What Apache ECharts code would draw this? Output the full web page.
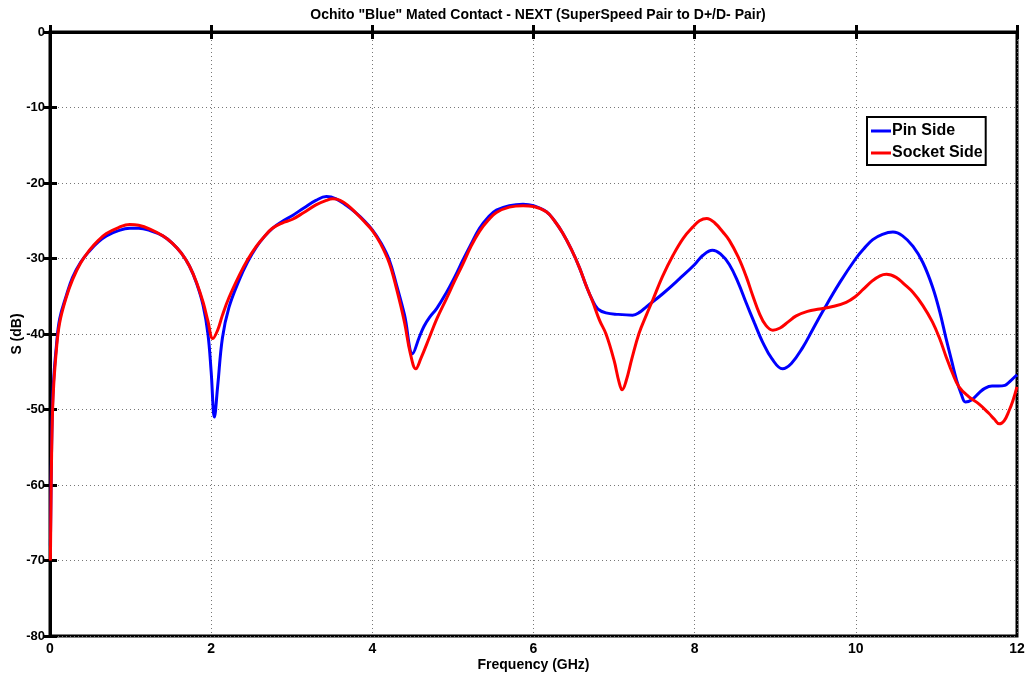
<!DOCTYPE html>
<html>
<head>
<meta charset="utf-8">
<script src="https://cdn.jsdelivr.net/npm/echarts@6/dist/echarts.min.js"></script>
<style>html,body{margin:0;padding:0;background:#fff}#c{width:1029px;height:681px}</style>
</head>
<body>
<div id="c"></div>
<script>
var titleText = 'Ochito "Blue" Mated Contact - NEXT (SuperSpeed Pair to D+/D- Pair)';
var seriesNames = ['Pin Side', 'Socket Side'];
var xTicks = [0, 2, 4, 6, 8, 10, 12];
var yTicks = [-80, -70, -60, -50, -40, -30, -20, -10, 0];

var pinFreq = [0.005,0.02,0.04,0.08,0.12,0.2,0.28,0.38,0.49,0.6,0.7,0.85,0.99,1.1,1.24,1.4,1.52,1.63,1.73,1.82,1.90,1.96,2.0,2.04,2.08,2.14,2.22,2.35,2.45,2.56,2.66,2.76,2.88,3.01,3.15,3.3,3.43,3.55,3.68,3.8,3.9,4.0,4.1,4.21,4.3,4.4,4.5,4.58,4.64,4.71,4.8,4.92,5.02,5.12,5.22,5.33,5.44,5.54,5.7,5.87,6.0,6.16,6.26,6.36,6.47,6.57,6.65,6.73,6.8,6.9,7.05,7.23,7.32,7.40,7.6,7.81,8.0,8.1,8.22,8.32,8.43,8.54,8.64,8.74,8.84,8.96,9.09,9.2,9.34,9.46,9.59,9.8,10.0,10.1,10.21,10.33,10.46,10.58,10.71,10.83,10.95,11.04,11.12,11.19,11.25,11.31,11.36,11.44,11.53,11.6,11.69,11.77,11.85,11.92,12.0];
var pinDb = [-68,-55,-47,-41.5,-38,-35,-32.5,-30.5,-29,-27.8,-27,-26.3,-26,-26,-26.3,-27,-28,-29.3,-31,-33.3,-36.2,-40,-45,-51,-47,-40.5,-36.5,-32.8,-30.5,-28.5,-27.1,-26.0,-25.1,-24.3,-23.3,-22.3,-21.8,-22.1,-23.0,-24.0,-25.0,-26.2,-27.8,-30.2,-33.5,-37.5,-42.6,-40.5,-39,-37.8,-36.6,-34.5,-32.5,-30.3,-28.2,-26.0,-24.5,-23.6,-23.0,-22.8,-23.0,-23.8,-25.0,-26.6,-28.8,-31.2,-33.5,-35.5,-36.7,-37.2,-37.4,-37.5,-37.1,-36.4,-34.7,-32.7,-30.8,-29.6,-28.9,-29.4,-30.8,-33.2,-35.9,-38.5,-41,-43.3,-44.6,-43.9,-41.8,-39.5,-37.0,-33.2,-30.0,-28.7,-27.5,-26.8,-26.5,-27.0,-28.4,-30.5,-33.7,-37,-40.6,-43.6,-46.1,-48.0,-49.0,-48.7,-47.8,-47.2,-46.9,-46.9,-46.8,-46.2,-45.4];

var sockFreq = [0.005,0.02,0.04,0.08,0.12,0.2,0.28,0.38,0.49,0.6,0.7,0.85,0.99,1.1,1.24,1.4,1.52,1.63,1.73,1.82,1.90,1.96,2.02,2.08,2.14,2.22,2.35,2.45,2.56,2.66,2.76,2.88,3.01,3.15,3.3,3.43,3.51,3.6,3.7,3.8,3.9,4.0,4.1,4.21,4.3,4.4,4.47,4.54,4.6,4.71,4.8,4.92,5.02,5.12,5.22,5.33,5.44,5.54,5.7,5.87,6.0,6.16,6.26,6.36,6.47,6.57,6.65,6.73,6.82,6.9,7.0,7.06,7.10,7.15,7.22,7.31,7.4,7.48,7.6,7.73,7.86,7.98,8.06,8.15,8.25,8.35,8.43,8.54,8.64,8.72,8.80,8.88,8.97,9.06,9.16,9.26,9.4,9.55,9.7,9.88,10.0,10.09,10.2,10.3,10.38,10.5,10.6,10.71,10.83,10.95,11.04,11.12,11.2,11.28,11.4,11.53,11.65,11.72,11.78,11.84,11.9,11.95,12.0];
var sockDb = [-70,-56,-48,-42,-38.5,-35.2,-32.8,-30.6,-28.9,-27.6,-26.7,-25.9,-25.5,-25.6,-26.1,-27,-28.0,-29.3,-31.0,-33.2,-35.8,-38.3,-40.6,-39.5,-37.5,-35.2,-32.2,-30.2,-28.4,-27.1,-26.0,-25.3,-24.8,-23.9,-22.9,-22.3,-22.1,-22.3,-23,-24.0,-25.1,-26.3,-28.0,-30.6,-34.0,-38.5,-42.5,-44.6,-43.3,-40.4,-38.0,-35.3,-33.0,-30.8,-28.5,-26.4,-24.9,-23.9,-23.2,-23.0,-23.1,-23.8,-25.0,-26.6,-28.8,-31.2,-33.5,-35.6,-38.2,-40,-43.5,-46.3,-47.4,-46.2,-43.3,-39.9,-37.5,-35.5,-32.4,-29.6,-27.3,-25.8,-25.0,-24.7,-25.3,-26.5,-27.6,-29.8,-32.4,-34.9,-37.2,-38.8,-39.5,-39.2,-38.4,-37.6,-37.0,-36.7,-36.4,-35.8,-35.0,-34.1,-33.0,-32.3,-32.1,-32.5,-33.4,-34.5,-36.2,-38.4,-40.6,-43.0,-45.2,-47.0,-48.3,-49.3,-50.5,-51.3,-51.9,-51.5,-50.2,-48.8,-47.0];

function zip(xs, ys) { return xs.map(function (x, i) { return [x, ys[i]]; }); }

var FONT = '"Liberation Sans", Arial, sans-serif';
var chart = echarts.init(document.getElementById('c'), null, {renderer: 'canvas'});
var tickStyle = {show: true, inside: true, length: 7, lineStyle: {color: '#000', width: 3}};
var option = {
  backgroundColor: '#fff',
  animation: false,
  title: {
    text: titleText, left: 533, top: 3, textAlign: 'center',
    textStyle: {fontFamily: FONT, fontSize: 14, fontWeight: 'bold', color: '#000'}
  },
  legend: {
    orient: 'vertical', left: 867, top: 117,
    data: seriesNames,
    icon: 'rect', itemWidth: 20, itemHeight: 3, itemGap: 6,
    backgroundColor: '#fff', borderColor: '#000', borderWidth: 2, borderRadius: 0,
    padding: [6, 3, 4, 4],
    textStyle: {fontFamily: FONT, fontSize: 16, fontWeight: 'bold', color: '#000', padding: [0, 0, 0, -4]}
  },
  grid: {left: 50, right: 12, top: 32, bottom: 45, show: true, borderColor: '#000', borderWidth: 3, backgroundColor: 'transparent', outerBoundsMode: 'none', containLabel: false},
  xAxis: [{
    type: 'value', min: xTicks[0], max: xTicks[xTicks.length - 1], interval: 2,
    name: 'Frequency (GHz)', nameLocation: 'middle', nameGap: 22, nameMoveOverlap: false,
    nameTextStyle: {fontFamily: FONT, fontSize: 14, fontWeight: 'bold', color: '#000'},
    axisLine: {show: true, lineStyle: {color: '#000', width: 3}},
    axisTick: tickStyle,
    axisLabel: {fontFamily: FONT, fontSize: 14, fontWeight: 'bold', color: '#000', margin: 6},
    splitLine: {show: true, lineStyle: {color: '#777', width: 1, type: [1, 3]}}
  }, {
    type: 'value', position: 'top', min: 0, max: 12, interval: 2,
    axisLine: {show: false}, axisTick: tickStyle, axisLabel: {show: false}, splitLine: {show: false}
  }],
  yAxis: [{
    type: 'value', min: yTicks[0], max: yTicks[yTicks.length - 1], interval: 10,
    name: 'S (dB)', nameLocation: 'middle', nameGap: 26, nameRotate: 90, nameMoveOverlap: false,
    nameTextStyle: {fontFamily: FONT, fontSize: 14, fontWeight: 'bold', color: '#000'},
    axisLine: {show: true, lineStyle: {color: '#000', width: 3}},
    axisTick: tickStyle,
    axisLabel: {fontFamily: FONT, fontSize: 13, fontWeight: 'bold', color: '#000', margin: 5},
    splitLine: {show: true, lineStyle: {color: '#777', width: 1, type: [1, 3]}}
  }, {
    type: 'value', position: 'right', min: -80, max: 0, interval: 10,
    axisLine: {show: false}, axisTick: tickStyle, axisLabel: {show: false}, splitLine: {show: false}
  }],
  series: [{
    name: seriesNames[0], type: 'line', data: zip(pinFreq, pinDb),
    showSymbol: false, smooth: 0.4,
    lineStyle: {color: '#0000ff', width: 3}, itemStyle: {color: '#0000ff'}, z: 3
  }, {
    name: seriesNames[1], type: 'line', data: zip(sockFreq, sockDb),
    showSymbol: false, smooth: 0.4,
    lineStyle: {color: '#ff0000', width: 3}, itemStyle: {color: '#ff0000'}, z: 4
  }]
};
chart.setOption(option);
</script>
</body>
</html>
